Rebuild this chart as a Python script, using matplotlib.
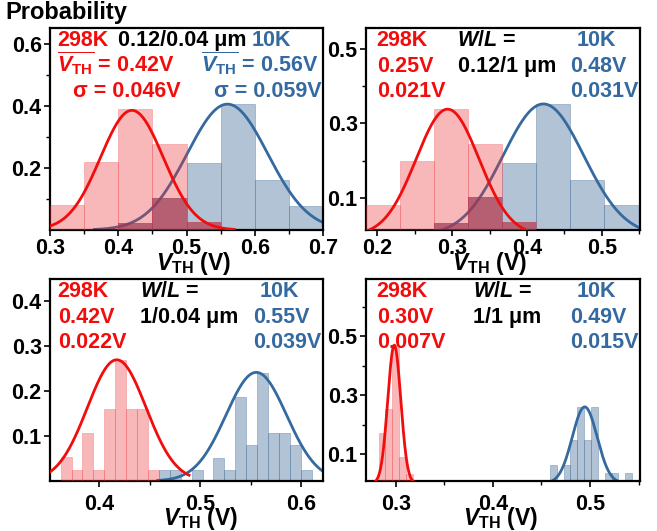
import matplotlib
matplotlib.use("Agg")
import matplotlib.pyplot as plt
import numpy as np
from matplotlib.ticker import MultipleLocator

plt.rcParams['font.family'] = ['Liberation Sans', 'DejaVu Sans']
plt.rcParams['font.weight'] = 'bold'
plt.rcParams['mathtext.fontset'] = 'custom'
plt.rcParams['mathtext.rm'] = 'Liberation Sans:bold'
plt.rcParams['mathtext.it'] = 'Liberation Sans:italic:bold'
plt.rcParams['mathtext.bf'] = 'Liberation Sans:bold'

# panel 1: W/L = 0.12/0.04 um
p1_start, p1_width = 0.30, 0.05
p1_red = [0.081, 0.22, 0.39, 0.276, 0.025, 0, 0, 0]
p1_blue = [0, 0, 0.024, 0.104, 0.215, 0.405, 0.161, 0.078]
p1_red_fit = [0.385, 0.42, 0.046, 0.30, 0.57]     # amp, mean, sigma, x from, x to
p1_blue_fit = [0.405, 0.56, 0.059, 0.365, 0.70]

# panel 2: W/L = 0.12/1 um
p2_start, p2_width = 0.185, 0.0455
p2_red = [0.082, 0.20, 0.338, 0.245, 0.037, 0, 0, 0]
p2_blue = [0, 0, 0.035, 0.1025, 0.194, 0.352, 0.149, 0.082]
p2_red_fit = [0.338, 0.294, 0.042, 0.186, 0.43]
p2_blue_fit = [0.352, 0.422, 0.054, 0.245, 0.551]

# panel 3: W/L = 1/0.04 um
p3_start, p3_width = 0.362, 0.0108
p3_red = [0.054, 0.025, 0.107, 0.025, 0.161, 0.27, 0.161, 0.161, 0.025] + [0] * 14
p3_blue = [0] * 9 + [0.025, 0.025, 0, 0.025, 0, 0.052, 0.025, 0.187, 0.08,
                     0.241, 0.106, 0.106, 0.08, 0.025]
p3_red_fit = [0.27, 0.4175, 0.029, 0.352, 0.489]
p3_blue_fit = [0.242, 0.5555, 0.030, 0.458, 0.622]

# panel 4: W/L = 1/1 um
p4_start, p4_width = 0.2825, 0.00705
p4_red = [0.17, 0.254, 0.47, 0.088, 0.031] + [0] * 32
p4_blue = [0] * 25 + [0.063, 0, 0.063, 0.146, 0.26, 0.146, 0.26, 0, 0.034, 0.034, 0, 0.034]
p4_red_fit = [0.47, 0.2986, 0.0067, 0.2755, 0.3195]
p4_blue_fit = [0.26, 0.4946, 0.0128, 0.4425, 0.545]

# text, colour, x, y, alignment
texts = [
    [('298K', 'r', 0.026, 0.911, 'left'), ('0.12/0.04 μm', 'k', 0.249, 0.911, 'left'),
     ('10K', 'b', 0.74, 0.911, 'left'),
     (r'$\overline{V_{\mathrm{TH}}}$ = 0.42V', 'r', 0.026, 0.784, 'left'),
     (r'$\overline{V_{\mathrm{TH}}}$ = 0.56V', 'b', 0.982, 0.784, 'right'),
     ('σ = 0.046V', 'r', 0.084, 0.66, 'left'), ('σ = 0.059V', 'b', 0.995, 0.66, 'right')],
    [('298K', 'r', 0.039, 0.911, 'left'), (r'$W/L$ =', 'k', 0.332, 0.911, 'left'),
     ('10K', 'b', 0.769, 0.911, 'left'),
     ('0.25V', 'r', 0.039, 0.784, 'left'), ('0.12/1 μm', 'k', 0.335, 0.784, 'left'),
     ('0.48V', 'b', 0.745, 0.784, 'left'),
     ('0.021V', 'r', 0.039, 0.66, 'left'), ('0.031V', 'b', 0.745, 0.66, 'left')],
    [('298K', 'r', 0.028, 0.909, 'left'), (r'$W/L$ =', 'k', 0.33, 0.909, 'left'),
     ('10K', 'b', 0.769, 0.909, 'left'),
     ('0.42V', 'r', 0.028, 0.78, 'left'), ('1/0.04 μm', 'k', 0.33, 0.78, 'left'),
     ('0.55V', 'b', 0.744, 0.78, 'left'),
     ('0.022V', 'r', 0.028, 0.657, 'left'), ('0.039V', 'b', 0.744, 0.657, 'left')],
    [('298K', 'r', 0.039, 0.909, 'left'), (r'$W/L$ =', 'k', 0.392, 0.909, 'left'),
     ('10K', 'b', 0.769, 0.909, 'left'),
     ('0.30V', 'r', 0.039, 0.78, 'left'), ('1/1 μm', 'k', 0.392, 0.78, 'left'),
     ('0.49V', 'b', 0.745, 0.78, 'left'),
     ('0.007V', 'r', 0.039, 0.657, 'left'), ('0.015V', 'b', 0.745, 0.657, 'left')],
]

RED = '#f20d0d'
BLUE = '#356aa0'
colors = {'r': RED, 'b': BLUE, 'k': 'black'}

panels = [
    dict(pos=[50, 28, 273, 202], start=p1_start, width=p1_width, red=p1_red, blue=p1_blue,
         rfit=p1_red_fit, bfit=p1_blue_fit, xlim=(0.30, 0.70), ylim=(0, 0.65),
         xt=0.1, yt=[0.2, 0.4, 0.6], ym=[0.1, 0.3, 0.5], lab=0.524, labY=-0.10, pad=2),
    dict(pos=[366, 28, 274, 202], start=p2_start, width=p2_width, red=p2_red, blue=p2_blue,
         rfit=p2_red_fit, bfit=p2_blue_fit, xlim=(0.185, 0.551), ylim=(0.015, 0.555),
         xt=0.1, yt=[0.1, 0.3, 0.5], ym=[0.2, 0.4], lab=0.45, labY=-0.10, pad=2),
    dict(pos=[50, 279, 273, 202], start=p3_start, width=p3_width, red=p3_red, blue=p3_blue,
         rfit=p3_red_fit, bfit=p3_blue_fit, xlim=(0.3515, 0.6215), ylim=(0, 0.45),
         xt=0.1, yt=[0.1, 0.2, 0.3, 0.4], ym=[], lab=0.553, labY=-0.118, pad=5),
    dict(pos=[366, 279, 274, 202], start=p4_start, width=p4_width, red=p4_red, blue=p4_blue,
         rfit=p4_red_fit, bfit=p4_blue_fit, xlim=(0.2695, 0.5515), ylim=(0.008, 0.695),
         xt=0.1, yt=[0.1, 0.3, 0.5], ym=[0.2, 0.4, 0.6], lab=0.49, labY=-0.118, pad=5),
]

W, H = 657, 531
fig = plt.figure(figsize=(W / 100, H / 100), dpi=100)


def gauss(fit):
    amp, mu, sig, x0, x1 = fit
    x = np.linspace(x0, x1, 300)
    return x, amp * np.exp(-(x - mu) ** 2 / (2 * sig ** 2))


for p, tx in zip(panels, texts):
    l, t, w, h = p['pos']
    ax = fig.add_axes([l / W, 1 - (t + h) / H, w / W, h / H])
    red = np.array(p['red'], dtype=float)
    blue = np.array(p['blue'], dtype=float)
    edges = p['start'] + p['width'] * np.arange(len(red))
    both = np.minimum(red, blue)

    m = blue > 0
    ax.bar(edges[m], blue[m], width=p['width'], align='edge', color='#46709b', alpha=0.42,
           edgecolor='#46709b', linewidth=0.6, zorder=1)
    x, y = gauss(p['bfit'])
    ax.plot(x, y, color=BLUE, lw=2, zorder=2)
    m = red > 0
    ax.bar(edges[m], red[m], width=p['width'], align='edge', color='#eb3237', alpha=0.35,
           edgecolor='#eb3237', linewidth=0.5, zorder=3)
    m = both > 0
    ax.bar(edges[m], both[m], width=p['width'], align='edge', color='#a83048', alpha=0.5,
           linewidth=0, zorder=4)
    x, y = gauss(p['rfit'])
    ax.plot(x, y, color=RED, lw=2, zorder=5)

    ax.set_xlim(*p['xlim'])
    ax.set_ylim(*p['ylim'])
    ax.xaxis.set_major_locator(MultipleLocator(p['xt']))
    ax.xaxis.set_minor_locator(MultipleLocator(p['xt'] / 2))
    ax.set_yticks(p['yt'])
    ax.set_yticks(p['ym'], minor=True)
    ax.tick_params(which='major', direction='out', length=4, width=1.2, labelsize=15.5, pad=p['pad'])
    ax.tick_params(axis='y', which='major', pad=2)
    ax.tick_params(which='minor', direction='out', length=3, width=1.0)
    for s in ax.spines.values():
        s.set_linewidth(1.6)
    ax.set_xlabel(r'$V_{\mathrm{TH}}$ (V)', fontsize=16.5, fontweight='bold')
    ax.xaxis.set_label_coords(p['lab'], p['labY'])

    for txt, c, xx, yy, ha in tx:
        ax.text(xx, yy, txt, color=colors[c], fontsize=15.5, fontweight='bold',
                transform=ax.transAxes, ha=ha, va='baseline', zorder=6)

fig.text(5 / W, 1 - 19 / H, 'Probability', fontsize=17, fontweight='bold', va='baseline')

fig.savefig('out.png', dpi=100)
